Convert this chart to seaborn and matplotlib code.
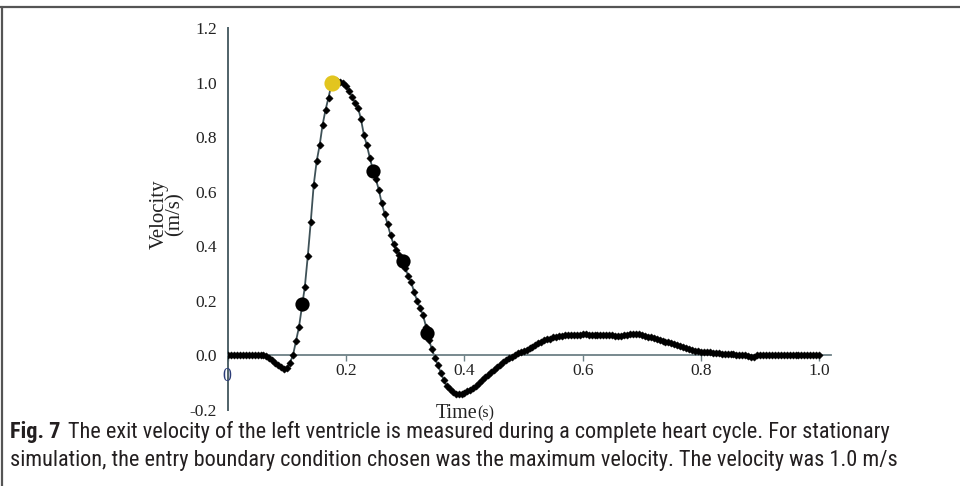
import numpy as np
import pandas as pd
import matplotlib
matplotlib.use("Agg")
import matplotlib.pyplot as plt
import seaborn as sns
from matplotlib.lines import Line2D
from matplotlib.transforms import offset_copy
from matplotlib import font_manager

# ---------------- data ----------------
DT = 0.005  # sampling step of the measured signal (s)
velocity = [
    0.000, 0.000, 0.000, 0.000, 0.000, 0.000, 0.000, 0.000, 0.000, 0.000,
    0.000, 0.000, 0.000, -0.003, -0.010, -0.018, -0.027, -0.035, -0.042, -0.048,
    -0.047, -0.026, 0.001, 0.053, 0.103, 0.178, 0.252, 0.365, 0.490, 0.625,
    0.712, 0.770, 0.845, 0.900, 0.945, 0.993, 1.003, 1.004, 1.002, 0.999,
    0.988, 0.968, 0.947, 0.925, 0.908, 0.865, 0.807, 0.770, 0.723, 0.681,
    0.647, 0.608, 0.558, 0.519, 0.481, 0.441, 0.407, 0.385, 0.367, 0.350,
    0.320, 0.290, 0.268, 0.231, 0.200, 0.174, 0.147, 0.105, 0.057, 0.022,
    -0.008, -0.036, -0.063, -0.090, -0.112, -0.124, -0.133, -0.140, -0.142, -0.141,
    -0.136, -0.130, -0.125, -0.118, -0.112, -0.102, -0.091, -0.080, -0.071, -0.062,
    -0.052, -0.043, -0.034, -0.025, -0.018, -0.010, -0.004, 0.002, 0.008, 0.011,
    0.015, 0.020, 0.026, 0.032, 0.039, 0.045, 0.050, 0.055, 0.059, 0.062,
    0.066, 0.069, 0.071, 0.073, 0.074, 0.075, 0.075, 0.075, 0.076, 0.076,
    0.077, 0.077, 0.076, 0.076, 0.076, 0.076, 0.075, 0.075, 0.076, 0.075,
    0.074, 0.073, 0.072, 0.072, 0.074, 0.076, 0.077, 0.078, 0.079, 0.077,
    0.074, 0.071, 0.068, 0.066, 0.063, 0.060, 0.057, 0.054, 0.051, 0.048,
    0.045, 0.042, 0.039, 0.035, 0.031, 0.028, 0.024, 0.021, 0.018, 0.016,
    0.014, 0.013, 0.012, 0.011, 0.010, 0.009, 0.008, 0.007, 0.006, 0.005,
    0.005, 0.004, 0.003, 0.002, 0.001, 0.000, -0.003, -0.006, -0.004, 0.000,
    0.000, 0.000, 0.000, 0.000, 0.000, 0.000, 0.000, 0.000, 0.000, 0.000,
    0.000, 0.000, 0.000, 0.000, 0.000, 0.000, 0.000, 0.000, 0.000, 0.000,
    0.002,
]
time = np.round(np.arange(len(velocity)) * DT, 4)

# highlighted samples
mark_t = [0.126, 0.246, 0.296, 0.336]
mark_v = [0.187, 0.675, 0.345, 0.083]
peak_t = [0.176]
peak_v = [1.000]

x_ticks = [0.0, 0.2, 0.4, 0.6, 0.8, 1.0]
x_tick_labels = ["", "0.2", "0.4", "0.6", "0.8", "1.0"]
y_ticks = [-0.2, 0.0, 0.2, 0.4, 0.6, 0.8, 1.0, 1.2]
y_tick_labels = ["-0.2", "0.0", "0.2", "0.4", "0.6", "0.8", "1.0", "1.2"]

caption_bold = "Fig. 7"
caption_line1 = "The exit velocity of the left ventricle is measured during a complete heart cycle. For stationary"
caption_line2 = "simulation, the entry boundary condition chosen was the maximum velocity. The velocity was 1.0 m/s"

df = pd.DataFrame({"t": time, "v": velocity})
df_mark = pd.DataFrame({"t": mark_t, "v": mark_v})
df_peak = pd.DataFrame({"t": peak_t, "v": peak_v})

# ---------------- style ----------------
sns.set_theme(style="white")
plt.rcParams["font.family"] = ["Liberation Serif", "DejaVu Serif"]

W, H = 960, 486
fig = plt.figure(figsize=(W / 100, H / 100), dpi=100)
fig.patch.set_facecolor("white")

ax_l, ax_r, ax_t, ax_b = 228, 831, 28, 410
ax = fig.add_axes([ax_l / W, 1 - ax_b / H, (ax_r - ax_l) / W, (ax_b - ax_t) / H])
ax.set_facecolor("white")

LINE = "#3e5157"
sns.lineplot(data=df, x="t", y="v", color=LINE, linewidth=1.3, ax=ax, zorder=2)
sns.scatterplot(data=df, x="t", y="v", marker="D", s=14, color="black",
                edgecolor="black", linewidth=0.3, ax=ax, zorder=3, legend=False)
sns.scatterplot(data=df_mark, x="t", y="v", marker="o", s=105, color="black",
                edgecolor="black", linewidth=0, ax=ax, zorder=4, legend=False)
sns.scatterplot(data=df_peak, x="t", y="v", marker="o", s=135, color="#e2c51f",
                edgecolor="#e2c51f", linewidth=0, ax=ax, zorder=5, legend=False)

ax.set_xlim(0, 1.02)
ax.set_ylim(-0.2, 1.2)
ax.set_xlabel("")
ax.set_ylabel("")

for s in ["top", "right"]:
    ax.spines[s].set_visible(False)
ax.spines["left"].set_color("#4f6268")
ax.spines["left"].set_linewidth(1.4)
ax.spines["bottom"].set_position(("data", 0))
ax.spines["bottom"].set_color("#6d8086")
ax.spines["bottom"].set_linewidth(1.3)

ax.set_xticks(x_ticks)
ax.set_xticklabels(x_tick_labels)
ax.set_yticks(y_ticks)
ax.set_yticklabels(y_tick_labels)
ax.tick_params(axis="x", direction="out", length=4, width=1.0, color="#6d8086",
               pad=1.5, labelsize=12.5, labelcolor="#222222", bottom=True)
ax.tick_params(axis="y", length=0, pad=8, labelsize=12.5, labelcolor="#222222", left=True)

# origin "0" label (drawn in a bluish tone in the reference)
ax.text(0, 0, "0", transform=offset_copy(ax.transData, fig=fig, x=-1, y=-9, units="points"),
        ha="center", va="top", fontsize=13, color="#2b3c78")

# axis titles
fig.text(167 / W, 1 - 214 / H, "Velocity\n(m/s)", rotation=90, ha="center", va="center",
         fontsize=15, linespacing=0.8, color="#222222")
fig.text(477 / W, 1 - 413 / H, "Time", ha="right", va="center", fontsize=14.5, color="#222222")
fig.text(477.5 / W, 1 - 413 / H, "(s)", ha="left", va="center", fontsize=11.5, color="#222222")

# frame of the figure box
fig.add_artist(Line2D([0, 1], [1 - 7 / H, 1 - 7 / H], transform=fig.transFigure,
                      color="#555555", linewidth=1.6))
fig.add_artist(Line2D([1.5 / W, 1.5 / W], [0, 1 - 7 / H], transform=fig.transFigure,
                      color="#555555", linewidth=1.6))


# caption: pick the narrowest installed sans family
def _installed(name):
    try:
        font_manager.findfont(font_manager.FontProperties(family=name), fallback_to_default=False)
        return True
    except Exception:
        return False


cap_family = "DejaVu Sans"
for cand in ["Roboto Condensed", "Liberation Sans Narrow", "DejaVu Sans Condensed", "Roboto"]:
    if _installed(cand):
        cap_family = cand
        break
cap_font = [cap_family, "DejaVu Sans"]

# size the caption so that the second line spans the same width as in the reference
probe = fig.text(0, 0, caption_line2, fontsize=14, family=cap_font)
fig.canvas.draw()
w14 = probe.get_window_extent().width
probe.remove()
cap_size = min(18.0, 14 * (893.0 / w14))

t1 = fig.text(10 / W, 1 - 432 / H, caption_bold, ha="left", va="center", fontsize=cap_size,
              fontweight="bold", family=cap_font, color="#231f20")
fig.canvas.draw()
bb = t1.get_window_extent()
fig.text((bb.x1 + 7) / W, 1 - 432 / H, caption_line1,
         ha="left", va="center", fontsize=cap_size, family=cap_font, color="#231f20")
fig.text(10 / W, 1 - 460 / H, caption_line2,
         ha="left", va="center", fontsize=cap_size, family=cap_font, color="#231f20")

fig.savefig("out.png", dpi=100, facecolor="white")
